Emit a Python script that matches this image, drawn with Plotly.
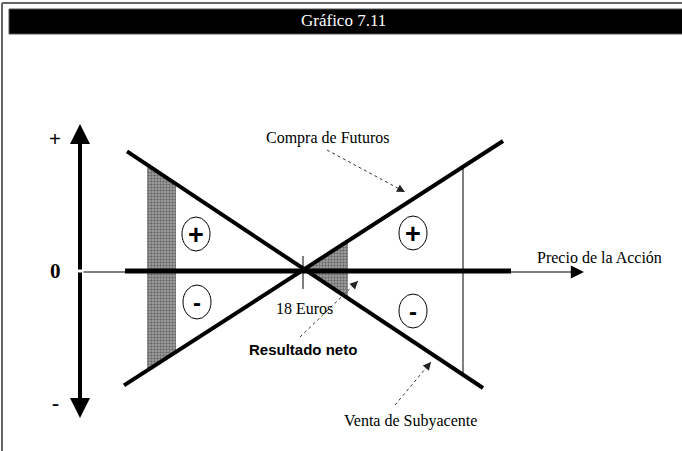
import plotly.graph_objects as go

W, H = 682, 451

# payoff lines: share price (euros) vs result
futures_price = [9.05, 28.0]
futures_result = [-8.8, 10.0]
spot_price = [9.2, 27.0]
spot_result = [9.2, -9.0]
net_price = [9.1, 28.4]
net_result = [0, 0]
strike = 18

# shaded zones between the two lines
shade_left_price = [10.2, 11.65, 11.65, 10.2]
shade_left_result = [8.2, 6.7, -6.2, -7.7]
shade_mid_price = [18.05, 20.25, 20.25]
shade_mid_result = [0.1, 2.3, -2.1]
edge_price = [26, 26]
edge_result = [8.0, -8.0]

# pixel -> data helpers (18 euros sits at x=303, zero at y=271)
def dx(px):
    return strike + (px - 303) / 20.0

def dy(py):
    return (271 - py) / 13.0

SERIF = "Liberation Serif"
SANS = "Liberation Sans"

fig = go.Figure()

pat = dict(shape=".", fgcolor="#2a2a2a", bgcolor="#a8a8a8", size=3, solidity=0.5)
fig.add_trace(go.Scatter(x=shade_left_price, y=shade_left_result, fill="toself",
                         mode="none", fillcolor="rgba(0,0,0,0)", fillpattern=pat))
fig.add_trace(go.Scatter(x=shade_mid_price, y=shade_mid_result, fill="toself",
                         mode="none", fillcolor="rgba(0,0,0,0)", fillpattern=pat))

fig.add_trace(go.Scatter(x=edge_price, y=edge_result, mode="lines",
                         line=dict(color="black", width=1)))
fig.add_trace(go.Scatter(x=net_price, y=net_result, mode="lines",
                         line=dict(color="black", width=5)))
fig.add_trace(go.Scatter(x=futures_price, y=futures_result, mode="lines",
                         line=dict(color="black", width=4)))
fig.add_trace(go.Scatter(x=spot_price, y=spot_result, mode="lines",
                         line=dict(color="black", width=4)))

shapes = []
annos = []

# frame + title bar
shapes.append(dict(type="line", xref="paper", yref="paper", x0=2 / W, x1=1, y0=1 - 3 / H, y1=1 - 3 / H,
                   line=dict(color="#666", width=2)))
shapes.append(dict(type="line", xref="paper", yref="paper", x0=2 / W, x1=2 / W, y0=0, y1=1 - 3 / H,
                   line=dict(color="#666", width=2)))
shapes.append(dict(type="rect", xref="paper", yref="paper", x0=9 / W, x1=1.01, y0=1 - 34 / H, y1=1 - 9 / H,
                   fillcolor="black", line=dict(color="#555", width=1)))
annos.append(dict(xref="paper", yref="paper", x=343 / W, y=1 - 21 / H, text="Gráfico 7.11",
                  xanchor="center", yanchor="middle", showarrow=False,
                  font=dict(family=SERIF, size=17, color="white")))

# vertical axis (arrows both ways)
for tip in (124, 418):
    annos.append(dict(x=dx(80), y=dy(tip), ax=0, ay=271 - tip, text="", showarrow=True,
                      arrowhead=2, arrowsize=1, arrowwidth=4, arrowcolor="black"))
# horizontal axis
annos.append(dict(x=dx(584), y=dy(272), ax=-(584 - 82), ay=0, text="", showarrow=True,
                  arrowhead=2, arrowsize=2.2, arrowwidth=1.2, arrowcolor="black"))
# tick at 18 euros
shapes.append(dict(type="line", x0=strike, x1=strike, y0=dy(256), y1=dy(289),
                   line=dict(color="black", width=1)))

# axis signs
for txt, yy in (("+", 139), ("0", 271), ("-", 403)):
    annos.append(dict(x=dx(55), y=dy(yy), text="<b>%s</b>" % txt, showarrow=False,
                      font=dict(family=SERIF, size=21, color="black")))

# circled signs
for cx, cy, s in ((196, 234, "+"), (197, 302, "-"), (413, 233, "+"), (413, 311, "-")):
    shapes.append(dict(type="circle", x0=dx(cx - 14), x1=dx(cx + 14), y0=dy(cy + 17), y1=dy(cy - 17),
                       line=dict(color="black", width=1)))
    annos.append(dict(x=dx(cx), y=dy(cy + (1 if s == "+" else 0)), text="<b>%s</b>" % s, showarrow=False,
                      font=dict(family=SANS, size=27 if s == "+" else 24, color="black")))

# text labels
annos.append(dict(x=dx(328), y=dy(138), text="Compra de Futuros", showarrow=False,
                  font=dict(family=SERIF, size=16, color="black")))
annos.append(dict(x=dx(599), y=dy(257), text="Precio de la Acción", showarrow=False,
                  font=dict(family=SERIF, size=16, color="black")))
annos.append(dict(x=dx(304), y=dy(308), text="18 Euros", showarrow=False,
                  font=dict(family=SERIF, size=16, color="black")))
annos.append(dict(x=dx(303), y=dy(349), text="<b>Resultado neto</b>", showarrow=False,
                  font=dict(family=SANS, size=15, color="black")))
annos.append(dict(x=dx(410), y=dy(421), text="Venta de Subyacente", showarrow=False,
                  font=dict(family=SERIF, size=16, color="black")))

# dotted pointer arrows
for (x0, y0), (x1, y1) in (((327, 150), (405, 192)), ((300, 337), (358, 281)), ((395, 405), (431, 362))):
    shapes.append(dict(type="line", x0=dx(x0), y0=dy(y0), x1=dx(x1), y1=dy(y1),
                       line=dict(color="#333", width=1, dash="dot")))
    vx, vy = x1 - x0, y1 - y0
    n = (vx ** 2 + vy ** 2) ** 0.5
    annos.append(dict(x=dx(x1), y=dy(y1), ax=-vx / n * 9, ay=-vy / n * 9, text="", showarrow=True,
                      arrowhead=2, arrowsize=1.6, arrowwidth=1, arrowcolor="#222"))

fig.update_layout(
    width=W, height=H, autosize=False,
    margin=dict(l=0, r=0, t=0, b=0, pad=0),
    paper_bgcolor="white", plot_bgcolor="white",
    showlegend=False,
    xaxis=dict(range=[dx(0), dx(W)], visible=False, fixedrange=True),
    yaxis=dict(range=[dy(H), dy(0)], visible=False, fixedrange=True),
    shapes=shapes, annotations=annos,
)

fig.write_html("out.html", config={"displayModeBar": False},
               post_script="document.body.style.margin='0px';document.body.style.overflow='hidden';")
